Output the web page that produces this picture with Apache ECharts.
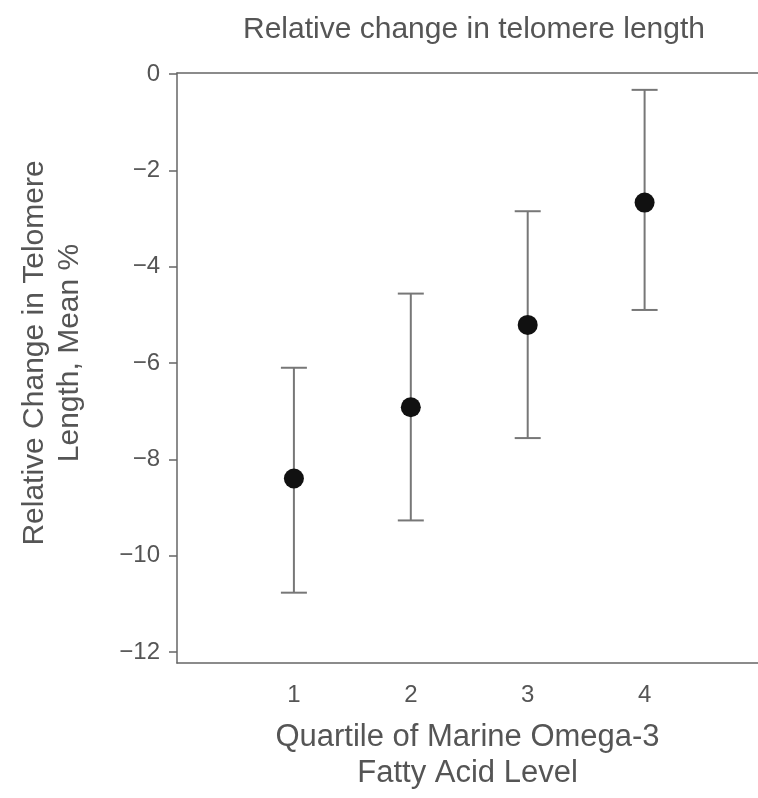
<!DOCTYPE html>
<html>
<head>
<meta charset="utf-8">
<script src="https://cdn.jsdelivr.net/npm/echarts@6/dist/echarts.min.js"></script>
<style>html,body{margin:0;padding:0;background:#fff}#c{width:758px;height:798px}</style>
</head>
<body>
<div id="c"></div>
<script>
const quartiles = [1, 2, 3, 4];
const meanChange = [-8.40, -6.92, -5.21, -2.67];
const upperCI = [-6.10, -4.56, -2.85, -0.33];
const lowerCI = [-10.77, -9.27, -7.56, -4.90];
const yTickValues = [0, -2, -4, -6, -8, -10, -12];
const titleText = 'Relative change in telomere length';
const yName = 'Relative Change in Telomere\nLength, Mean %';
const xName = 'Quartile of Marine Omega-3\nFatty Acid Level';

const FONT = 'Liberation Sans';
const TXT = '#555';
const LINE = '#666';

const chart = echarts.init(document.getElementById('c'), null, {renderer: 'canvas'});
chart.setOption({
  animation: false,
  backgroundColor: '#fff',
  title: {
    text: titleText, left: 469, top: 10, textAlign: 'center',
    textStyle: {fontFamily: FONT, fontSize: 30, fontWeight: 'normal', color: TXT}
  },
  grid: {left: 177, right: 0, top: 73, bottom: 135, show: false},
  xAxis: [
    {
      type: 'value', position: 'bottom', min: 0, max: 4.97,
      axisLine: {show: true, onZero: false, lineStyle: {color: LINE, width: 1.5}},
      axisTick: {show: false},
      splitLine: {show: false},
      axisLabel: {customValues: quartiles, margin: 20, fontFamily: FONT, fontSize: 24, color: TXT},
      name: xName, nameLocation: 'middle', nameGap: 56,
      nameTextStyle: {fontFamily: FONT, fontSize: 31, color: TXT, lineHeight: 36}
    },
    {
      type: 'value', position: 'top', min: 0, max: 4.97,
      axisLine: {show: true, onZero: false, lineStyle: {color: LINE, width: 1.5}},
      axisTick: {show: false}, axisLabel: {show: false}, splitLine: {show: false}
    }
  ],
  yAxis: {
    type: 'value', min: -12.23, max: 0.02,
    axisLine: {show: true, onZero: false, lineStyle: {color: LINE, width: 1.5}},
    axisTick: {show: true, customValues: yTickValues, length: 8, lineStyle: {color: LINE, width: 1.5}},
    splitLine: {show: false},
    axisLabel: {customValues: yTickValues, margin: 17, fontFamily: FONT, fontSize: 24, color: TXT,
      formatter: v => (v < 0 ? '\u2212' + Math.abs(v) : String(v))},
    name: yName, nameLocation: 'middle', nameGap: 90, nameRotate: 90,
    nameTextStyle: {fontFamily: FONT, fontSize: 30, color: TXT, lineHeight: 35, padding: [0, 0, 0, 30]}
  },
  series: [
    {
      type: 'custom',
      xAxisIndex: 0,
      data: quartiles.map((q, i) => [q, lowerCI[i], upperCI[i]]),
      renderItem: function (params, api) {
        const lo = api.coord([api.value(0), api.value(1)]);
        const hi = api.coord([api.value(0), api.value(2)]);
        const hw = 13;
        const st = {stroke: '#777', lineWidth: 2};
        return {
          type: 'group',
          children: [
            {type: 'line', shape: {x1: lo[0], y1: lo[1], x2: hi[0], y2: hi[1]}, style: st},
            {type: 'line', shape: {x1: lo[0] - hw, y1: lo[1], x2: lo[0] + hw, y2: lo[1]}, style: st},
            {type: 'line', shape: {x1: hi[0] - hw, y1: hi[1], x2: hi[0] + hw, y2: hi[1]}, style: st}
          ]
        };
      },
      z: 2
    },
    {
      type: 'scatter',
      xAxisIndex: 0,
      data: quartiles.map((q, i) => [q, meanChange[i]]),
      symbol: 'circle', symbolSize: 20,
      itemStyle: {color: '#111', opacity: 1},
      z: 3
    }
  ]
});
</script>
</body>
</html>
